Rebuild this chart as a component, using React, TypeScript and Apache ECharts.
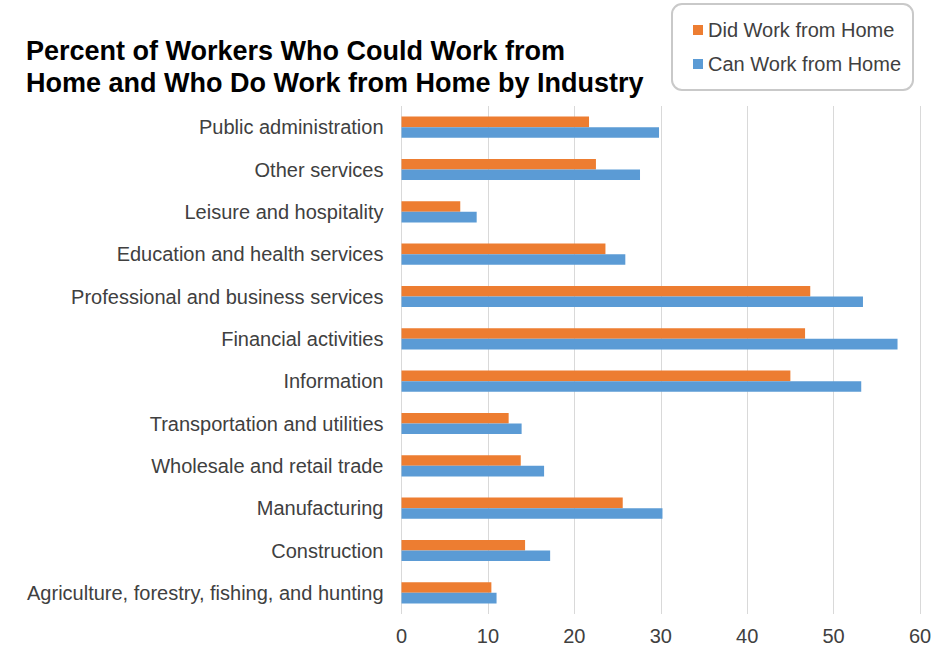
import React, { useEffect, useRef } from "react";
import * as echarts from "echarts";

const categories = [
  "Public administration",
  "Other services",
  "Leisure and hospitality",
  "Education and health services",
  "Professional and business services",
  "Financial activities",
  "Information",
  "Transportation and utilities",
  "Wholesale and retail trade",
  "Manufacturing",
  "Construction",
  "Agriculture, forestry, fishing, and hunting",
];

const didWorkFromHome = [21.7, 22.5, 6.8, 23.6, 47.3, 46.7, 45.0, 12.4, 13.8, 25.6, 14.3, 10.4];
const canWorkFromHome = [29.8, 27.6, 8.7, 25.9, 53.4, 57.4, 53.2, 13.9, 16.5, 30.2, 17.2, 11.0];

const xTicks = [0, 10, 20, 30, 40, 50, 60];

const TITLE = "Percent of Workers Who Could Work from\nHome and Who Do Work from Home by Industry";
const FONT = "'Liberation Sans', Arial, sans-serif";

export default function App() {
  const ref = useRef<HTMLDivElement>(null);
  useEffect(() => {
    if (!ref.current) return;
    const chart = echarts.init(ref.current, undefined, { renderer: "svg" });
    chart.setOption({
      animation: false,
      backgroundColor: "#ffffff",
      textStyle: { fontFamily: FONT },
      title: {
        text: TITLE,
        left: 26,
        top: 35,
        padding: 0,
        textStyle: {
          fontFamily: FONT,
          fontSize: 27,
          fontWeight: "bold",
          lineHeight: 32,
          color: "#000000",
        },
      },
      legend: {
        orient: "vertical",
        left: 672,
        top: 4,
        padding: [16, 12, 16, 21],
        itemGap: 14,
        itemWidth: 10,
        itemHeight: 10,
        icon: "rect",
        borderColor: "#c9c9c9",
        borderWidth: 2,
        borderRadius: 10,
        textStyle: { fontFamily: FONT, fontSize: 20, color: "#404040" },
        data: ["Did Work from Home", "Can Work from Home"],
      },
      grid: {
        left: 401.5,
        right: 31,
        top: 106,
        bottom: 33,
        containLabel: false,
      },
      xAxis: {
        type: "value",
        min: xTicks[0],
        max: xTicks[xTicks.length - 1],
        interval: 10,
        axisLine: { show: false },
        axisTick: { show: false },
        axisLabel: { fontFamily: FONT, fontSize: 20, color: "#404040", margin: 12 },
        splitLine: { show: true, lineStyle: { color: "#d9d9d9", width: 1 } },
      },
      yAxis: {
        type: "category",
        inverse: true,
        data: categories,
        axisLine: { show: false },
        axisTick: { show: false },
        axisLabel: { fontFamily: FONT, fontSize: 20, color: "#404040", margin: 18 },
      },
      series: [
        {
          name: "Did Work from Home",
          type: "bar",
          data: didWorkFromHome,
          itemStyle: { color: "#ED7D31" },
          barGap: "0%",
          barCategoryGap: "50%",
        },
        {
          name: "Can Work from Home",
          type: "bar",
          data: canWorkFromHome,
          itemStyle: { color: "#5B9BD5" },
          barGap: "0%",
          barCategoryGap: "50%",
        },
      ],
    });
    return () => chart.dispose();
  }, []);
  return (
    <div
      ref={ref}
      style={{ position: "fixed", left: 0, top: 0, width: 951, height: 647 }}
    />
  );
}
